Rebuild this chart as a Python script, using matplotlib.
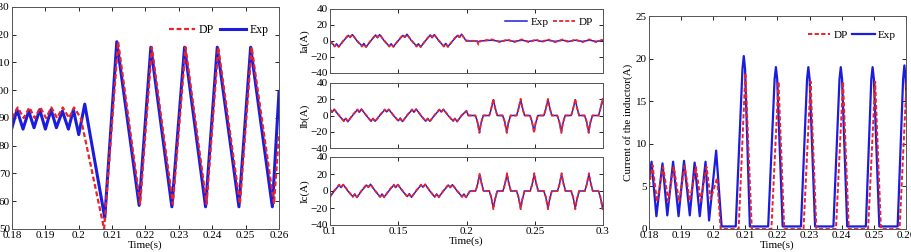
import matplotlib
matplotlib.use("Agg")
import matplotlib.pyplot as plt

plt.rcParams['font.family'] = ['Liberation Serif', 'DejaVu Serif']
plt.rcParams['font.size'] = 8

#### data ####

# panel 1: voltage, DP vs Exp
v_t_exp = [0.1800, 0.1815, 0.1833, 0.1850, 0.1866, 0.1883, 0.1900, 0.1917, 0.1933,
           0.1951, 0.1969, 0.1984, 0.2000, 0.2018, 0.2078, 0.2114, 0.2181, 0.2216,
           0.2279, 0.2317, 0.2380, 0.2415, 0.2480, 0.2515, 0.2580, 0.2600]
v_exp = [86.5, 93.0, 86.0, 92.5, 86.5, 93.0, 86.0, 93.0, 86.5,
         92.5, 86.0, 93.0, 84.0, 95.0, 54.0, 117.5, 58.5, 115.5,
         58.0, 115.5, 58.0, 115.5, 58.0, 115.5, 58.0, 99.5]
v_t_dp = [0.1800, 0.1817, 0.1835, 0.1852, 0.1868, 0.1885, 0.1902, 0.1918, 0.1935,
          0.1952, 0.1971, 0.1986, 0.2006, 0.2076, 0.2118, 0.2184, 0.2219, 0.2282,
          0.2320, 0.2383, 0.2418, 0.2483, 0.2518, 0.2585, 0.2600]
v_dp = [90.0, 93.8, 90.0, 93.8, 90.0, 93.8, 90.0, 93.8, 90.0,
        93.8, 90.0, 93.8, 90.0, 50.0, 117.5, 59.0, 115.5, 59.0,
        115.5, 59.0, 115.5, 59.0, 115.5, 59.0, 84.5]
v_ticks = [0.18, 0.19, 0.20, 0.21, 0.22, 0.23, 0.24, 0.25, 0.26]
v_ticklabels = ['0.18', '0.19', '0.2', '0.21', '0.22', '0.23', '0.24', '0.25', '0.26']

# panel 2: phase currents Ia, Ib, Ic
ia_t = [0.1000,
        0.1034, 0.1048, 0.1064, 0.1098, 0.1134, 0.1148, 0.1164, 0.1198,
        0.1234, 0.1248, 0.1264, 0.1298, 0.1334, 0.1348, 0.1364, 0.1398,
        0.1434, 0.1448, 0.1464, 0.1498, 0.1534, 0.1548, 0.1564, 0.1598,
        0.1634, 0.1648, 0.1664, 0.1698, 0.1734, 0.1748, 0.1764, 0.1798,
        0.1834, 0.1848, 0.1864, 0.1898, 0.1934, 0.1948, 0.1964, 0.1998,
        0.2078, 0.2087, 0.2100, 0.2185, 0.2245, 0.2300, 0.2350, 0.2405, 0.2455,
        0.2510, 0.2550, 0.2595, 0.2650, 0.2705, 0.2750, 0.2795, 0.2850, 0.2900,
        0.2950, 0.3000]
ia_exp = [0.5,
          -6.5, -3.5, -7.0, 0.0, 7.0, 4.5, 8.0, 0.0,
          -6.0, -3.0, -7.5, 0.0, 7.5, 4.0, 8.0, 0.0,
          -6.5, -3.5, -7.0, 0.0, 7.0, 4.5, 8.5, 0.0,
          -6.0, -3.5, -7.5, 0.0, 7.5, 4.0, 8.0, 0.0,
          -6.5, -3.0, -7.0, 0.0, 7.0, 4.5, 8.5, 0.0,
          0.0, -1.0, 0.0, 1.0, -0.5, 1.0, -0.5, 1.0, -0.5,
          1.0, -0.5, 1.0, -0.5, 1.0, -0.5, 1.0, -0.5, 1.0,
          -0.5, 1.0]
ia_dp = [0.0,
         -7.0, -4.0, -7.5, 0.5, 7.5, 5.0, 8.0, 0.5,
         -7.0, -4.0, -7.5, 0.5, 7.5, 5.0, 8.0, 0.5,
         -7.0, -4.0, -7.5, 0.5, 7.5, 5.0, 8.0, 0.5,
         -7.0, -4.0, -7.5, 0.5, 7.5, 5.0, 8.0, 0.5,
         -7.0, -4.0, -7.5, 0.5, 7.5, 5.0, 8.0, 0.5,
         0.0, -4.5, 0.0, 2.0, -1.5, 2.0, -1.5, 2.0, -1.5,
         2.0, -1.5, 2.0, -1.5, 2.0, -1.5, 2.0, -1.5, 2.0,
         -1.5, 2.0]

ib_t = [0.1000, 0.1015, 0.1031, 0.1065,
        0.1101, 0.1115, 0.1131, 0.1165, 0.1201, 0.1215, 0.1231, 0.1265,
        0.1301, 0.1315, 0.1331, 0.1365, 0.1401, 0.1415, 0.1431, 0.1465,
        0.1501, 0.1515, 0.1531, 0.1565, 0.1601, 0.1615, 0.1631, 0.1665,
        0.1701, 0.1715, 0.1731, 0.1765, 0.1801, 0.1815, 0.1831, 0.1865,
        0.1901, 0.1915, 0.1931, 0.1965, 0.2000, 0.2013,
        0.2065, 0.2079, 0.2095, 0.2106, 0.2123,
        0.2167, 0.2181, 0.2197, 0.2208, 0.2225,
        0.2265, 0.2279, 0.2295, 0.2306, 0.2323,
        0.2367, 0.2381, 0.2397, 0.2408, 0.2425,
        0.2465, 0.2479, 0.2495, 0.2506, 0.2523,
        0.2567, 0.2581, 0.2597, 0.2608, 0.2625,
        0.2665, 0.2679, 0.2695, 0.2706, 0.2723,
        0.2767, 0.2781, 0.2797, 0.2808, 0.2825,
        0.2865, 0.2879, 0.2895, 0.2906, 0.2923,
        0.2967, 0.2981, 0.2997, 0.3008]
ib_exp = [7.0, 4.0, 7.5, 0.0,
          -6.5, -3.5, -7.5, 0.0, 7.0, 4.0, 8.0, 0.0,
          -7.0, -3.5, -7.0, 0.0, 7.0, 4.5, 7.5, 0.0,
          -6.5, -3.0, -7.5, 0.0, 7.0, 4.0, 8.0, 0.0,
          -7.0, -3.5, -7.0, 0.0, 7.0, 4.5, 7.5, 0.0,
          -6.5, -3.5, -7.5, 0.0, 6.0, 0.0,
          0.0, -7.0, -20.0, -10.0, 0.0,
          0.0, 8.0, 19.5, 11.0, 0.0,
          0.0, -7.0, -20.0, -10.0, 0.0,
          0.0, 8.0, 19.5, 11.0, 0.0,
          0.0, -7.0, -20.0, -10.0, 0.0,
          0.0, 8.0, 19.5, 11.0, 0.0,
          0.0, -7.0, -20.0, -10.0, 0.0,
          0.0, 8.0, 19.5, 11.0, 0.0,
          0.0, -7.0, -20.0, -10.0, 0.0,
          0.0, 8.0, 19.5, 11.0]
ib_dp = [7.5, 4.5, 7.5, 0.5,
         -7.0, -4.0, -7.5, 0.5, 7.5, 4.5, 7.5, 0.5,
         -7.0, -4.0, -7.5, 0.5, 7.5, 4.5, 7.5, 0.5,
         -7.0, -4.0, -7.5, 0.5, 7.5, 4.5, 7.5, 0.5,
         -7.0, -4.0, -7.5, 0.5, 7.5, 4.5, 7.5, 0.5,
         -7.0, -4.0, -7.5, 0.5, 5.0, 0.0,
         0.0, -7.0, -21.5, -9.0, 0.0,
         0.0, 8.5, 20.5, 10.0, 0.0,
         0.0, -7.0, -21.5, -9.0, 0.0,
         0.0, 8.5, 20.5, 10.0, 0.0,
         0.0, -7.0, -21.5, -9.0, 0.0,
         0.0, 8.5, 20.5, 10.0, 0.0,
         0.0, -7.0, -21.5, -9.0, 0.0,
         0.0, 8.5, 20.5, 10.0, 0.0,
         0.0, -7.0, -21.5, -9.0, 0.0,
         0.0, 8.5, 20.5, 10.0]

ic_t = [0.1000, 0.1031,
        0.1067, 0.1081, 0.1097, 0.1131, 0.1167, 0.1181, 0.1197, 0.1231,
        0.1267, 0.1281, 0.1297, 0.1331, 0.1367, 0.1381, 0.1397, 0.1431,
        0.1467, 0.1481, 0.1497, 0.1531, 0.1567, 0.1581, 0.1597, 0.1631,
        0.1667, 0.1681, 0.1697, 0.1731, 0.1767, 0.1781, 0.1797, 0.1831,
        0.1867, 0.1881, 0.1897, 0.1931, 0.1967, 0.1981, 0.1997, 0.2026,
        0.2067, 0.2081, 0.2097, 0.2108, 0.2125,
        0.2167, 0.2181, 0.2197, 0.2208, 0.2225,
        0.2267, 0.2281, 0.2297, 0.2308, 0.2325,
        0.2367, 0.2381, 0.2397, 0.2408, 0.2425,
        0.2467, 0.2481, 0.2497, 0.2508, 0.2525,
        0.2567, 0.2581, 0.2597, 0.2608, 0.2625,
        0.2667, 0.2681, 0.2697, 0.2708, 0.2725,
        0.2767, 0.2781, 0.2797, 0.2808, 0.2825,
        0.2867, 0.2881, 0.2897, 0.2908, 0.2925,
        0.2967, 0.2981, 0.2997, 0.3008]
ic_exp = [-7.0, 0.0,
          7.0, 4.0, 7.5, 0.0, -6.5, -3.5, -7.5, 0.0,
          7.0, 4.5, 8.0, 0.0, -7.0, -3.5, -7.0, 0.0,
          7.0, 4.0, 7.5, 0.0, -6.5, -3.0, -7.5, 0.0,
          7.0, 4.5, 8.0, 0.0, -7.0, -3.5, -7.0, 0.0,
          7.0, 4.0, 7.5, 0.0, -6.5, -3.5, -7.5, 0.0,
          0.0, 8.0, 19.5, 11.0, 0.0,
          0.0, -7.5, -20.0, -11.0, 0.0,
          0.0, 8.0, 19.5, 11.0, 0.0,
          0.0, -7.5, -20.0, -11.0, 0.0,
          0.0, 8.0, 19.5, 11.0, 0.0,
          0.0, -7.5, -20.0, -11.0, 0.0,
          0.0, 8.0, 19.5, 11.0, 0.0,
          0.0, -7.5, -20.0, -11.0, 0.0,
          0.0, 8.0, 19.5, 11.0, 0.0,
          0.0, -7.5, -20.0, -11.0]
ic_dp = [-6.5, 0.5,
         7.5, 4.5, 7.5, 0.5, -7.0, -4.0, -7.5, 0.5,
         7.5, 4.5, 7.5, 0.5, -7.0, -4.0, -7.5, 0.5,
         7.5, 4.5, 7.5, 0.5, -7.0, -4.0, -7.5, 0.5,
         7.5, 4.5, 7.5, 0.5, -7.0, -4.0, -7.5, 0.5,
         7.5, 4.5, 7.5, 0.5, -7.0, -4.0, -7.5, 0.5,
         0.0, 7.5, 21.0, 10.0, 0.0,
         0.0, -7.0, -21.5, -10.0, 0.0,
         0.0, 7.5, 21.0, 10.0, 0.0,
         0.0, -7.0, -21.5, -10.0, 0.0,
         0.0, 7.5, 21.0, 10.0, 0.0,
         0.0, -7.0, -21.5, -10.0, 0.0,
         0.0, 7.5, 21.0, 10.0, 0.0,
         0.0, -7.0, -21.5, -10.0, 0.0,
         0.0, 7.5, 21.0, 10.0, 0.0,
         0.0, -7.0, -21.5, -10.0]
abc_ticks = [0.1, 0.15, 0.2, 0.25, 0.3]
abc_ticklabels = ['0.1', '0.15', '0.2', '0.25', '0.3']
abc_names = ['Ia(A)', 'Ib(A)', 'Ic(A)']

# panel 3: inductor current
l_t_exp = [0.1800, 0.1808, 0.1823, 0.1842, 0.1857, 0.1875, 0.1892, 0.1909, 0.1927,
           0.1942, 0.1958, 0.1976, 0.1987, 0.2009, 0.2026,
           0.2070, 0.2091, 0.2095, 0.2099, 0.2114,
           0.2171, 0.2191, 0.2195, 0.2199, 0.2216,
           0.2273, 0.2292, 0.2296, 0.2300, 0.2317,
           0.2374, 0.2393, 0.2397, 0.2401, 0.2417,
           0.2475, 0.2492, 0.2496, 0.2500, 0.2517,
           0.2574, 0.2591, 0.2595, 0.2599, 0.2616]
l_exp = [5.8, 7.9, 1.5, 7.7, 1.6, 7.9, 1.5, 8.0, 1.6,
         7.8, 1.5, 7.9, 1.0, 9.2, 0.3,
         0.3, 18.8, 20.3, 18.8, 0.3,
         0.3, 17.6, 19.0, 17.6, 0.3,
         0.3, 17.6, 19.0, 17.6, 0.3,
         0.3, 17.6, 19.0, 17.6, 0.3,
         0.3, 17.6, 19.0, 17.6, 0.3,
         0.3, 17.6, 19.2, 17.6, 0.3]
l_t_dp = [0.1800, 0.1811, 0.1825, 0.1844, 0.1860, 0.1877, 0.1894, 0.1911, 0.1927,
          0.1946, 0.1961, 0.1979, 0.1992, 0.2012, 0.2023,
          0.2079, 0.2100, 0.2120,
          0.2181, 0.2203, 0.2221,
          0.2281, 0.2303, 0.2321,
          0.2382, 0.2404, 0.2422,
          0.2482, 0.2504, 0.2522,
          0.2580, 0.2602]
l_dp = [5.0, 7.5, 3.2, 7.3, 3.3, 7.3, 3.2, 7.4, 3.3,
        7.3, 3.3, 7.3, 3.5, 6.0, 0.0,
        0.0, 18.3, 0.0,
        0.0, 17.3, 0.0,
        0.0, 17.3, 0.0,
        0.0, 17.3, 0.0,
        0.0, 17.3, 0.0,
        0.0, 17.4]

#### styling ####
BLUE = '#1c1cdc'
RED = '#e8232b'
DASH = (0, (2.2, 1.2))


def style(ax):
    ax.tick_params(direction='in', top=True, right=True, length=3, width=0.6,
                   labelsize=8, pad=1.5)
    for s in ax.spines.values():
        s.set_color('#555555')
        s.set_linewidth(0.7)


fig = plt.figure(figsize=(9.12, 2.52), dpi=100)

# panel 1
ax1 = fig.add_axes([12/912, 23/252, 267/912, 222/252])
ax1.plot(v_t_exp, v_exp, color=BLUE, lw=2.2, label='Exp')
ax1.plot(v_t_dp, v_dp, color=RED, lw=1.6, ls=DASH, label='DP')
ax1.set_xlim(0.18, 0.26)
ax1.set_ylim(50, 130)
ax1.set_xticks(v_ticks)
ax1.set_xticklabels(v_ticklabels)
ax1.set_yticks(range(50, 131, 10))
ax1.set_xlabel('Time(s)', labelpad=0)
style(ax1)
h, l = ax1.get_legend_handles_labels()
ax1.legend([h[1], h[0]], [l[1], l[0]], loc='upper right', ncol=2, frameon=False,
           handlelength=2.2, columnspacing=0.5, handletextpad=0.3,
           bbox_to_anchor=(1.0, 0.97), fontsize=8.5)

# panel 2
bounds = [(9, 73), (83, 148), (157, 225)]
series = [(ia_t, ia_exp, ia_dp), (ib_t, ib_exp, ib_dp), (ic_t, ic_exp, ic_dp)]
for i, ((top, bot), (t, e, d)) in enumerate(zip(bounds, series)):
    ax = fig.add_axes([330/912, (252 - bot)/252, 273/912, (bot - top)/252])
    ax.plot(t, e, color=BLUE, lw=1.1, label='Exp')
    ax.plot(t, d, color=RED, lw=1.3, ls=DASH, label='DP')
    ax.set_xlim(0.1, 0.3)
    ax.set_ylim(-40, 40)
    ax.set_yticks([-40, -20, 0, 20, 40])
    ax.set_xticks(abc_ticks)
    ax.set_ylabel(abc_names[i], labelpad=1)
    style(ax)
    if i < 2:
        ax.set_xticklabels([])
    else:
        ax.set_xticklabels(abc_ticklabels)
        ax.set_xlabel('Time(s)', labelpad=0)
    if i == 0:
        ax.legend(loc='upper right', ncol=2, frameon=False, handlelength=2.0,
                  columnspacing=0.4, handletextpad=0.3, fontsize=8,
                  bbox_to_anchor=(1.0, 1.03))

# panel 3
ax3 = fig.add_axes([649/912, 23/252, 257/912, 213/252])
ax3.plot(l_t_exp, l_exp, color=BLUE, lw=1.6, label='Exp')
ax3.plot(l_t_dp, l_dp, color=RED, lw=1.4, ls=DASH, label='DP')
ax3.set_xlim(0.18, 0.26)
ax3.set_ylim(0, 25)
ax3.set_xticks(v_ticks)
ax3.set_xticklabels(v_ticklabels)
ax3.set_yticks([0, 5, 10, 15, 20, 25])
ax3.set_xlabel('Time(s)', labelpad=0)
ax3.set_ylabel('Current of the inductor(A)', labelpad=2)
style(ax3)
h, l = ax3.get_legend_handles_labels()
ax3.legend([h[1], h[0]], [l[1], l[0]], loc='upper right', ncol=2, frameon=False,
           handlelength=2.0, columnspacing=0.4, handletextpad=0.3,
           bbox_to_anchor=(1.0, 0.98), fontsize=8)

fig.savefig('out.png', dpi=100)
